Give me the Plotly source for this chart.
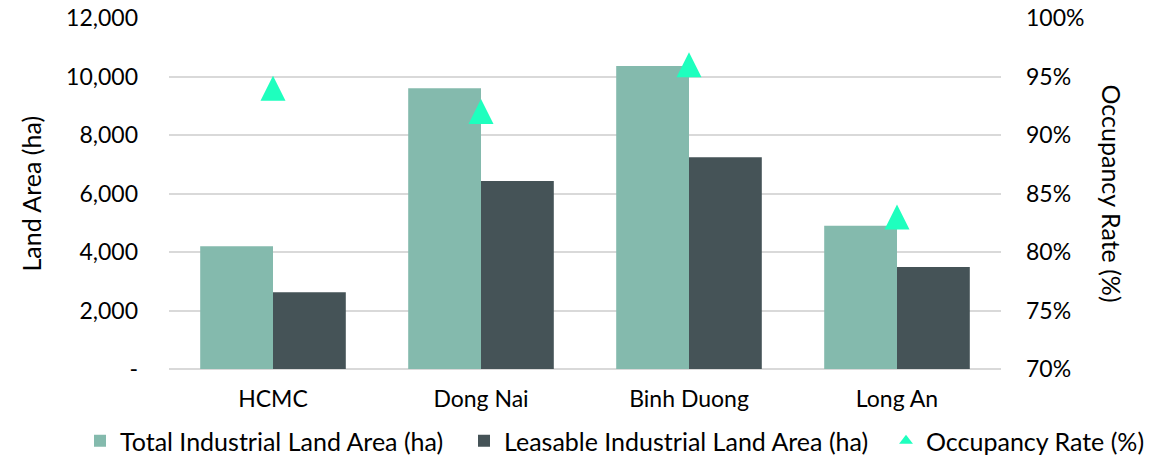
import plotly.graph_objects as go

categories = ["HCMC", "Dong Nai", "Binh Duong", "Long An"]
total_area = [4200, 9600, 10360, 4900]
leasable_area = [2620, 6430, 7240, 3490]
occupancy = [0.94, 0.92, 0.96, 0.83]

left_tickvals = [0, 2000, 4000, 6000, 8000, 10000, 12000]
left_ticktext = ["-", "2,000", "4,000", "6,000", "8,000", "10,000", "12,000"]
right_tickvals = [0.70, 0.75, 0.80, 0.85, 0.90, 0.95, 1.00]
right_ticktext = ["70%", "75%", "80%", "85%", "90%", "95%", "100%"]

FONT = "Lato"
FS = 23
LEG_FS = 25
OCC_COLOR = "#1EFFBE"

fig = go.Figure()
fig.add_trace(go.Bar(x=categories, y=total_area, name="Total Industrial Land Area (ha)",
                     legend="legend",
                     marker=dict(color="#84BAAD", line=dict(width=0))))
fig.add_trace(go.Bar(x=categories, y=leasable_area, name="Leasable Industrial Land Area (ha)",
                     legend="legend2",
                     marker=dict(color="#455357", line=dict(width=0))))
fig.add_trace(go.Scatter(x=categories, y=occupancy, name="Occupancy Rate (%)", yaxis="y2",
                         showlegend=False, mode="markers",
                         marker=dict(symbol="arrow-down", angle=180, size=25, standoff=12.5,
                                     color=OCC_COLOR, line=dict(width=0))))
# legend entry for the occupancy series
fig.add_trace(go.Scatter(x=[None], y=[None], name="Occupancy Rate (%)", yaxis="y2",
                         legend="legend3", mode="markers", showlegend=True,
                         marker=dict(symbol="triangle-up", size=14, color=OCC_COLOR)))


def leg(xpx):
    return dict(orientation="h", xref="container", yref="container",
                x=xpx / 1167, xanchor="left", y=1 - 441 / 462, yanchor="middle",
                font=dict(family=FONT, size=LEG_FS), itemsizing="constant",
                bgcolor="rgba(0,0,0,0)", itemwidth=30)


fig.update_layout(
    width=1167, height=462,
    margin=dict(l=169, r=166, t=18, b=93, autoexpand=False),
    paper_bgcolor="white", plot_bgcolor="white",
    font=dict(family=FONT, size=FS, color="#000000"),
    barmode="group", bargap=0.3, bargroupgap=0,
    showlegend=True,
    legend=leg(80), legend2=leg(464), legend3=leg(886),
    xaxis=dict(showgrid=False, showline=False, ticks="", ticklabelstandoff=14,
               tickfont=dict(family=FONT, size=FS)),
    yaxis=dict(range=[0, 12000], tickvals=left_tickvals, ticktext=left_ticktext,
               showgrid=True, gridcolor="#D9D9D9", gridwidth=1.5,
               zeroline=True, zerolinecolor="#D9D9D9", zerolinewidth=1.5,
               showline=False, ticks="", ticklabelstandoff=30,
               tickfont=dict(family=FONT, size=FS)),
    yaxis2=dict(range=[0.70, 1.00], tickvals=right_tickvals, ticktext=right_ticktext,
                overlaying="y", side="right", showgrid=False, zeroline=False,
                showline=False, ticks="", ticklabelstandoff=24,
                tickfont=dict(family=FONT, size=FS)),
    annotations=[
        dict(text="Land Area (ha)", textangle=-90, xref="paper", yref="paper",
             x=(30 - 169) / 832, y=0.5, xanchor="center", yanchor="middle",
             showarrow=False, font=dict(family=FONT, size=25)),
        dict(text="Occupancy Rate (%)", textangle=90, xref="paper", yref="paper",
             x=(1112 - 169) / 832, y=0.5, xanchor="center", yanchor="middle",
             showarrow=False, font=dict(family=FONT, size=25)),
    ],
)

fig.write_html("out.html")
